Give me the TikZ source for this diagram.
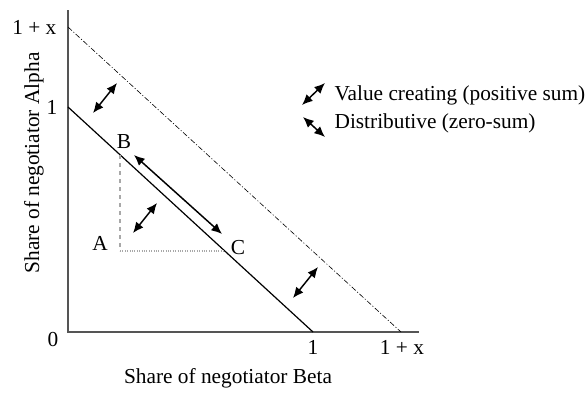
\documentclass[tikz,border=0pt]{standalone}
\usepackage{fontspec}
\setmainfont{Liberation Serif}
\usetikzlibrary{arrows.meta}
\definecolor{Axis}{HTML}{555555}
\definecolor{Guide}{HTML}{A8A8A8}
\begin{document}
\begin{tikzpicture}[x=0.75pt,y=-0.75pt,
  axis/.style={draw=Axis,line width=1.1pt},
  frontier/.style={draw=black,line width=0.9pt},
  wider/.style={draw=black,line width=0.45pt,dash pattern=on 4pt off 1.5pt on 0.8pt off 1.5pt},
  guide/.style={draw=Guide,line width=0.8pt},
  move/.style={draw=black,line width=1.1pt,{Latex[length=8pt,width=7pt]}-{Latex[length=8pt,width=7pt]}},
  lab/.style={font=\fontsize{16}{19}\selectfont,inner sep=1pt}
]
\useasboundingbox (0,0) rectangle (587,393);
% axes and frontiers
\coordinate (o) at (68,332);
\coordinate (ytop) at (68,10);
\coordinate (xend) at (419,332);
\coordinate (y1) at (68,107);
\coordinate (x1) at (313,332);
\coordinate (yx) at (68,27);
\coordinate (xx) at (401,332);
\coordinate (b) at (120,155);
\coordinate (a) at (120,251);
\coordinate (c) at (225,251);
\draw[axis] (ytop) -- (o) -- (xend);
\draw[frontier] (y1) -- (x1);
\draw[wider] (yx) -- (xx);
\draw[guide,dashed] (b) -- (a);
\draw[guide,densely dotted] (a) -- (c);
% tick labels
\node[lab,anchor=east] (lyx) at (58,27) {1 + x};
\node[lab,anchor=east] (ly1) at (59,107) {1};
\node[lab] (l0) at (53,340) {0};
\node[lab] (lx1) at (313,347) {1};
\node[lab] (lxx) at (402,347) {1 + x};
\node[lab] (beta) at (228,378) {Share of negotiator Beta};
\node[lab,rotate=90] (alpha) at (34,163) {Share of negotiator Alpha};
% points
\node[lab] (lb) at (124,142) {B};
\node[lab] (la) at (100,243) {A};
\node[lab] (lc) at (238,248) {C};
% moves
\foreach \n/\xa/\ya/\xb/\yb in {m1/93/113/117/83,m2/134/155/222/234,m3/133/233/157/203,m4/293/298/318/267,k1/302/105/325/83,k2/303/117/325/137} {
  \coordinate (\n-s) at (\xa,\ya);
  \coordinate (\n-e) at (\xb,\yb);
  \draw[move] (\n-s) -- (\n-e);
}
% legend
\node[lab,anchor=west] (v) at (333,95) {Value creating (positive sum)};
\node[lab,anchor=west] (d) at (333,123) {Distributive (zero-sum)};
\end{tikzpicture}
\end{document}
